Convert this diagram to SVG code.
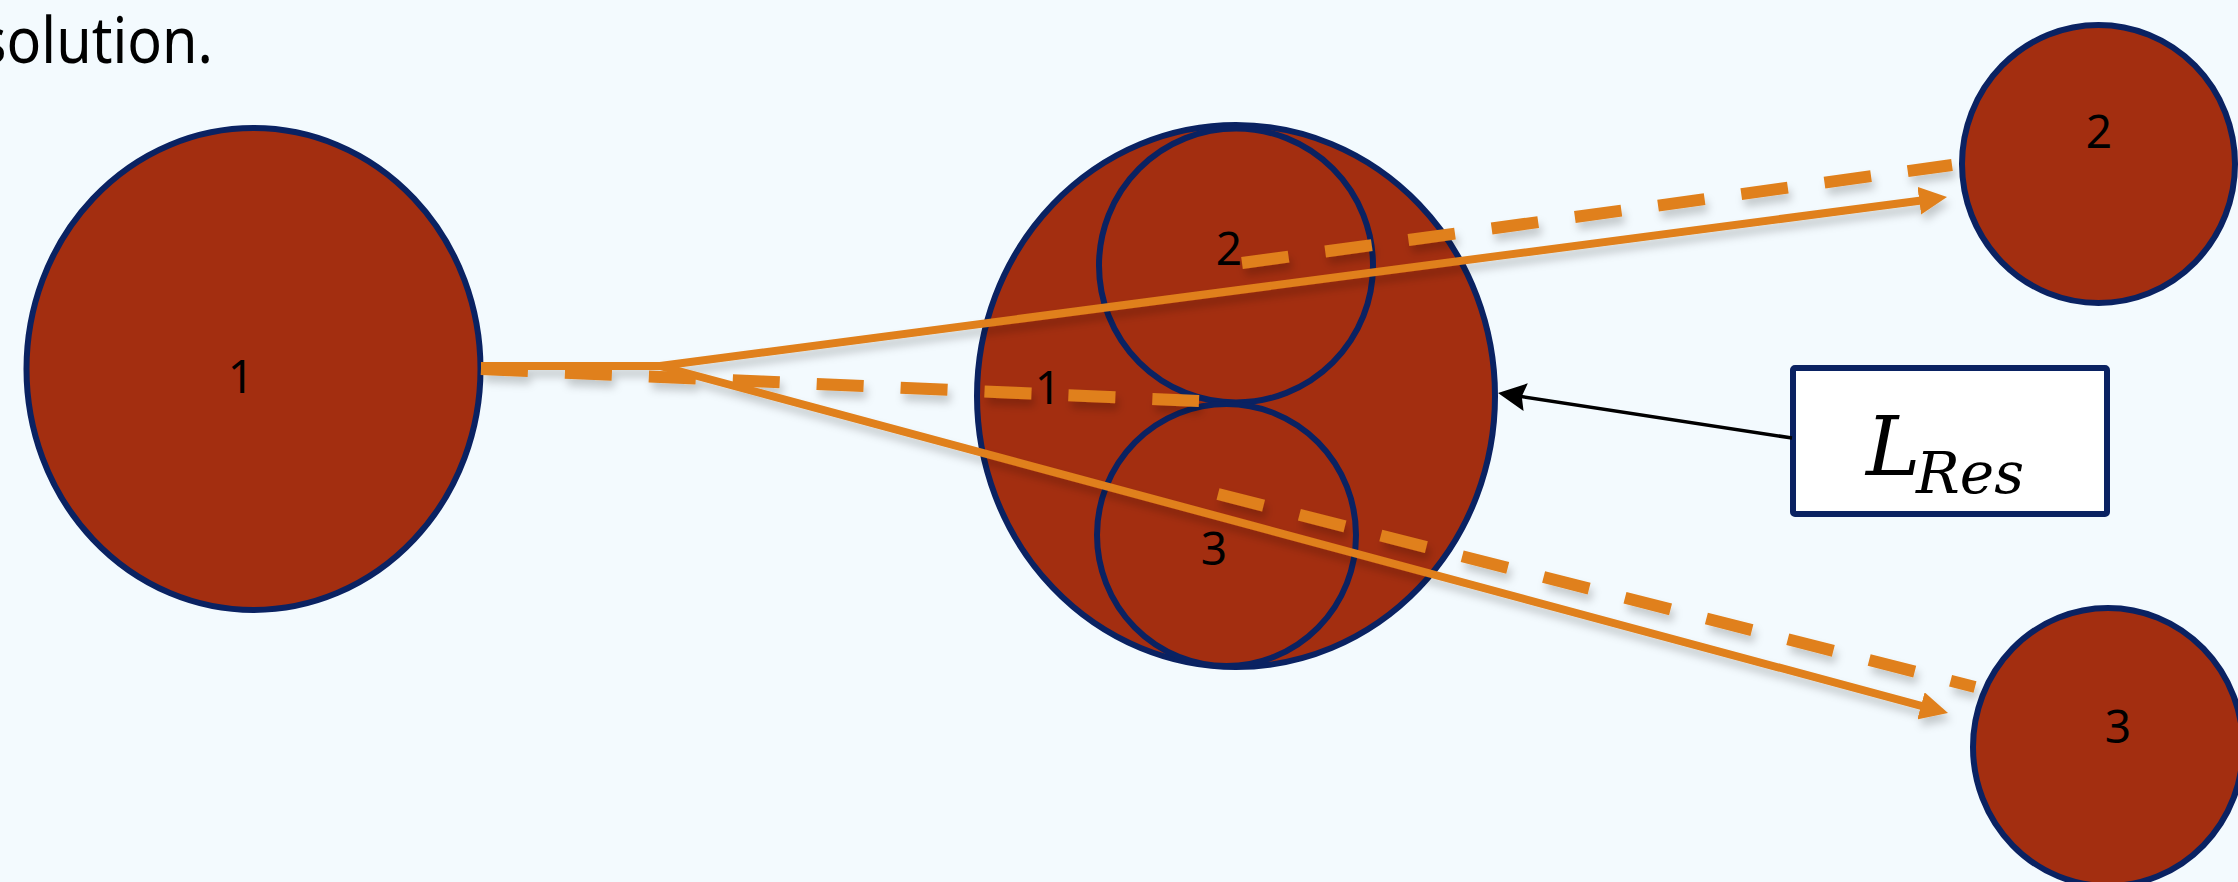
<svg xmlns="http://www.w3.org/2000/svg" width="2238" height="882" viewBox="0 0 2238 882">
<style>
.ball{fill:#A32E10;stroke:#0A2262;stroke-width:6}
.lbl{font-family:"Noto Sans","Open Sans",sans-serif;font-size:46px;fill:#000;text-anchor:middle}
.sol{fill:none;stroke:#E0801C;stroke-width:8;stroke-linejoin:round}
.dash{fill:none;stroke:#E0801C;stroke-width:12;stroke-dasharray:47 37}
</style>
<defs>
<marker id="oa" markerUnits="userSpaceOnUse" viewBox="0 0 28 28" markerWidth="28" markerHeight="28" refX="8" refY="14" orient="auto">
<path d="M0,0 L28,14 L0,28 z" fill="#E0801C"/>
</marker>
<marker id="ka" markerUnits="userSpaceOnUse" viewBox="0 0 28 28" markerWidth="28" markerHeight="28" refX="8" refY="14" orient="auto">
<path d="M0,0 L28,14 L0,28 L4,14 z" fill="#000"/>
</marker>
<filter id="sh" x="-5%" y="-20%" width="110%" height="140%">
<feDropShadow dx="3" dy="7" stdDeviation="4" flood-color="#000" flood-opacity="0.2"/>
</filter>
</defs>
<rect width="2238" height="882" fill="#F3FAFE"/>
<text x="-21" y="63" font-family="'Noto Sans','Open Sans',sans-serif" font-size="64" fill="#000" textLength="234" lengthAdjust="spacingAndGlyphs">solution.</text>

<g id="node-left1">
<ellipse class="ball" cx="253.5" cy="369" rx="227" ry="241"/>
<text class="lbl" x="241" y="393">1</text>
</g>

<g id="node-center">
<ellipse class="ball" cx="1236" cy="396" rx="259" ry="271"/>
<ellipse class="ball" cx="1236" cy="265.5" rx="137" ry="137"/>
<ellipse class="ball" cx="1226.5" cy="535" rx="129.5" ry="131"/>
<text class="lbl" x="1229" y="265">2</text>
<text class="lbl" x="1048" y="404">1</text>
<text class="lbl" x="1214" y="565">3</text>
</g>

<g id="node-right2">
<ellipse class="ball" cx="2098.5" cy="164" rx="136.5" ry="139"/>
<text class="lbl" x="2099" y="148">2</text>
</g>

<g id="node-right3">
<ellipse class="ball" cx="2108" cy="747" rx="135" ry="139"/>
<text class="lbl" x="2118" y="743">3</text>
</g>

<g id="node-lres">
<rect x="1793" y="368" width="314" height="146" rx="2" fill="#FFFFFF" stroke="#0A2262" stroke-width="6"/>
<text x="1866" y="475" font-family="'DejaVu Serif',serif" font-style="italic" font-size="82" fill="#000">L</text>
<text x="1916" y="493" font-family="'DejaVu Serif',serif" font-style="italic" font-size="58" fill="#000" textLength="108" lengthAdjust="spacingAndGlyphs">Res</text>
</g>

<g id="connectors">
<g filter="url(#sh)">
<path class="dash" d="M481,369 L1199,401"/>
<path class="dash" d="M1242,263 L1952,165"/>
<path class="dash" d="M1218,494 L1975,687"/>
<path class="sol" d="M481,366 L660,366 L1927.2,199.7" marker-end="url(#oa)"/>
<path class="sol" d="M481,366 L660,366 L1928.7,707.9" marker-end="url(#oa)"/>
</g>
<path d="M1792,438 L1517.8,396" fill="none" stroke="#000" stroke-width="3.5" marker-end="url(#ka)"/>
</g>
</svg>
